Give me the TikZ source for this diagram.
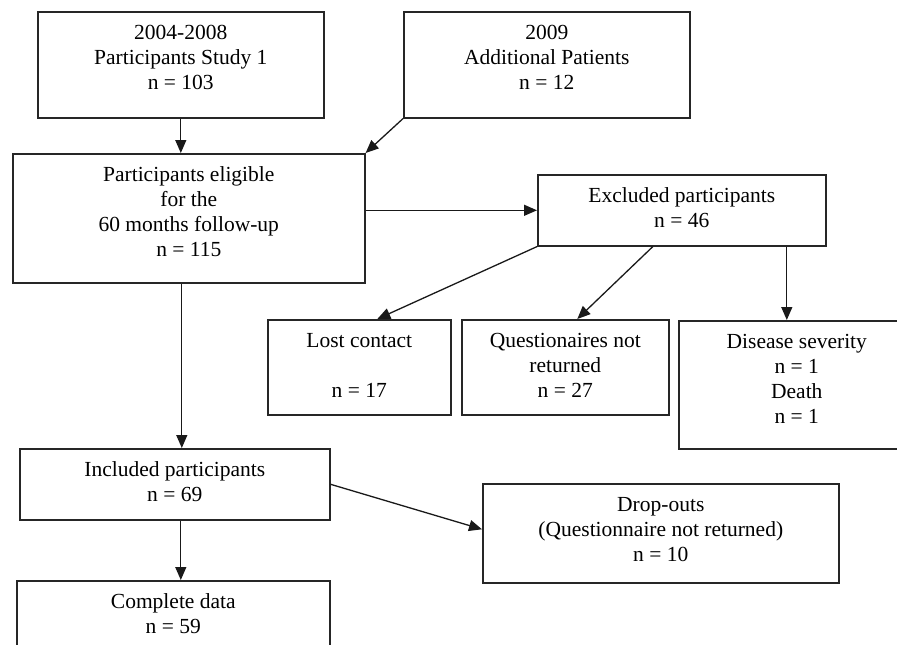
\documentclass[tikz,border=0pt]{standalone}
\usepackage{fontspec}
\setmainfont{Liberation Serif}
\usepackage{tikz}
\usetikzlibrary{arrows.meta, positioning}
\tikzstyle{block} = [rectangle, anchor=north west, draw=black!85, line width=1.6pt, align=center, inner sep=0pt, font=\fontsize{21.5}{25}\selectfont]
\tikzstyle{arrow} = [line width=1.3pt, draw=black!90, -{Triangle[length=13pt,width=11pt]}]

\begin{document}
\begin{tikzpicture}[x=1pt, y=-1pt]
\clip (0,0) rectangle (897,645);
% Define nodes
\node (study1) [block, minimum width=286pt, text height=78pt, text depth=28pt] at (37,11) {2004-2008\\Participants Study 1\\n = 103};
\node (additional) [block, minimum width=286pt, text height=78pt, text depth=28pt] at (403,11) {2009\\Additional Patients\\n = 12};
\node (eligible) [block, minimum width=352pt, text height=103pt, text depth=26pt] at (12,153) {Participants eligible\\for the\\60 months follow-up\\n = 115};
\node (excluded) [block, minimum width=288pt, text height=53pt, text depth=18pt] at (537,174) {Excluded participants\\n = 46};
\node (lost) [block, minimum width=183pt, text height=78pt, text depth=17pt] at (267,319) {Lost contact\\[25pt]n = 17};
\node (notreturned) [block, minimum width=207pt, text height=78pt, text depth=17pt] at (461,319) {Questionaires not\\returned\\n = 27};
\node (severity) [block, minimum width=236pt, text height=103pt, text depth=25pt] at (678,320) {Disease severity\\n = 1\\Death\\n = 1};
\node (included) [block, minimum width=310pt, text height=53pt, text depth=18pt] at (19,448) {Included participants\\n = 69};
\node (dropouts) [block, minimum width=356pt, text height=78pt, text depth=21pt] at (482,483) {Drop-outs\\(Questionnaire not returned)\\n = 10};
\node (complete) [block, minimum width=313pt, text height=53pt, text depth=27pt] at (16,580) {Complete data\\n = 59};
% Connect nodes with arrows
\draw [arrow] (study1.south) -- (study1.south |- eligible.north);
\draw [arrow] (additional.south west) -- (eligible.north east);
\draw [arrow] (excluded.west -| eligible.east) -- (excluded.west);
\draw [arrow] (excluded.south west) -- ([xshift=18pt]lost.north);
\draw [arrow] ([xshift=-29pt]excluded.south) -- ([xshift=12pt]notreturned.north);
\draw [arrow] ([xshift=-10pt]severity.north |- excluded.south) -- ([xshift=-10pt]severity.north);
\draw [arrow] ([xshift=-7pt]eligible.south) -- ([xshift=-7pt]eligible.south |- included.north);
\draw [arrow] (included.east) -- ([yshift=4pt]dropouts.west);
\draw [arrow] ([xshift=6pt]included.south) -- ([xshift=6pt]included.south |- complete.north);
\end{tikzpicture}
\end{document}
